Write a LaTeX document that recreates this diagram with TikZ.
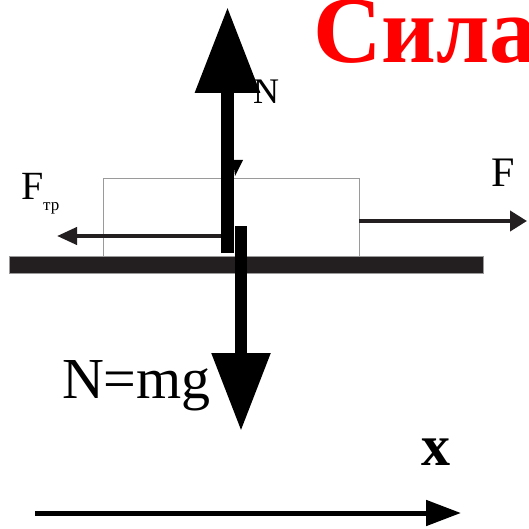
\documentclass[tikz,border=0pt]{standalone}
\usepackage{fontspec}
\setmainfont{Liberation Serif}
\usetikzlibrary{arrows.meta}
\definecolor{dk}{HTML}{231F20}
\definecolor{boxgray}{HTML}{9A9A9A}
\tikzset{
  lbl/.style={inner sep=0pt,outer sep=0pt,anchor=base west,text=black},
  thinforce/.style={draw=dk,line width=4pt},
}
\begin{document}
\begin{tikzpicture}[x=1pt,y=-1pt]
\useasboundingbox[fill=white] (0,0) rectangle (529,529);
% title
\node[lbl,text=red,font=\bfseries\fontsize{95}{95}\selectfont] (title) at (313,63) {Сила};
% block
\draw[boxgray,line width=1pt] (103,257) rectangle (359,179);
% ground
\fill[dk,draw=boxgray,line width=0.8pt] (9,256) rectangle (483,273);
% friction force
\coordinate (fs) at (221,236);
\coordinate (fe) at (57,236);
\draw[thinforce,-{Triangle[length=20pt,width=17pt]}] (fs) -- (fe);
% applied force
\coordinate (as) at (359,221);
\coordinate (ae) at (527,221);
\draw[thinforce,-{Triangle[length=17pt,width=20pt]}] (as) -- (ae);
% normal force
\coordinate (ns) at (227.5,253);
\coordinate (ne) at (227.5,7);
\fill[black] (233,160) -- (243,160) -- (235,176) -- cycle;
\draw[black,line width=13pt,-{Triangle[length=86pt,width=62pt]}] (ns) -- (ne);
% weight
\coordinate (ws) at (241,226);
\coordinate (we) at (241,431);
\draw[black,line width=12pt,-{Triangle[length=78pt,width=56pt]}] (ws) -- (we);
% x axis
\coordinate (xs) at (35,513);
\coordinate (xe) at (461,513);
\draw[black,line width=5pt,-{Triangle[length=35pt,width=25pt]}] (xs) -- (xe);
% labels
\node[lbl,font=\fontsize{36}{36}\selectfont] (nl) at (253,104) {N};
\node[lbl,font=\fontsize{42}{42}\selectfont] (fl) at (491,187) {F};
\node[lbl,font=\fontsize{40}{40}\selectfont] (ftr) at (21,200) {F\raisebox{-11pt}{\fontsize{17}{17}\selectfont тр}};
\node[lbl,font=\fontsize{58}{58}\selectfont] (nmg) at (62,398) {N=mg};
\node[lbl,font=\bfseries\fontsize{58}{58}\selectfont] (xl) at (421,465) {x};
\end{tikzpicture}
\end{document}
